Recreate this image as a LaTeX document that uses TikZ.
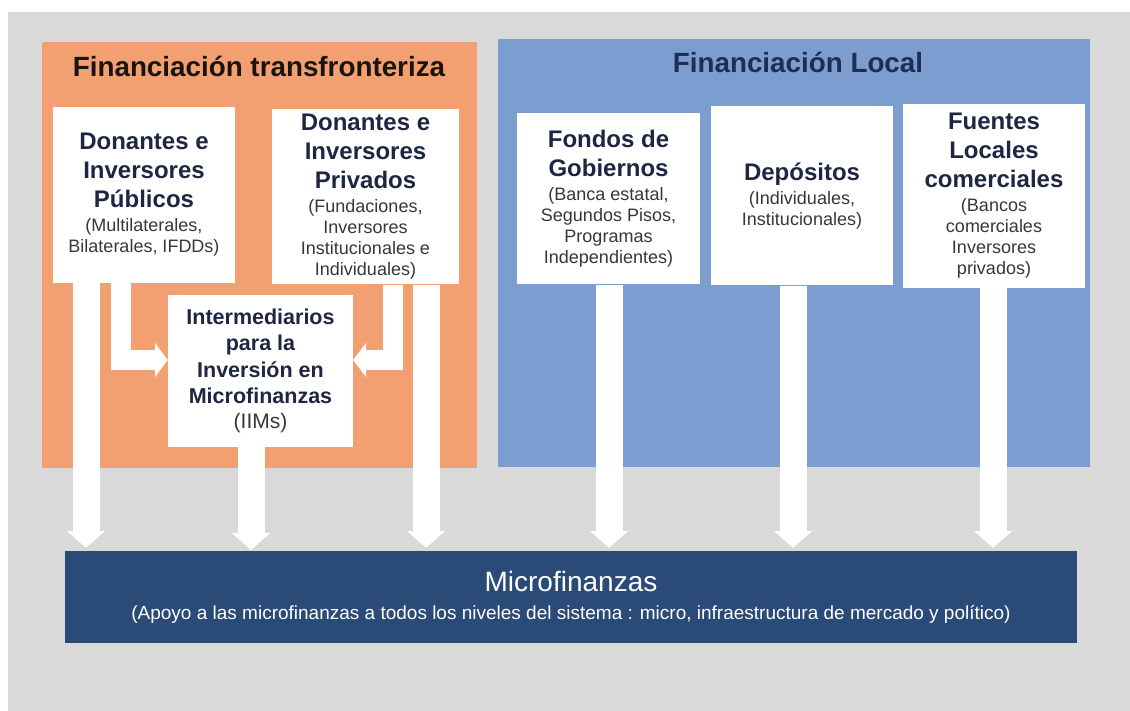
\documentclass[tikz,border=0pt]{standalone}
\usepackage{fontspec}
\setmainfont{Liberation Sans}
\usetikzlibrary{arrows.meta}
\definecolor{bggray}{HTML}{D9D9D9}
\definecolor{orangep}{HTML}{F2A071}
\definecolor{bluep}{HTML}{7C9DCF}
\definecolor{navyp}{HTML}{2A4A78}
\definecolor{headc}{HTML}{1E2643}
\definecolor{subc}{HTML}{333740}
\definecolor{titleo}{HTML}{1A1410}
\definecolor{titleb}{HTML}{1F2D52}
\newcommand{\hdfont}{\fontsize{24}{29}\selectfont\bfseries\color{headc}}
\newcommand{\hdsmall}{\fontsize{21.5}{26.5}\selectfont\bfseries\color{headc}}
\newcommand{\subfont}{\par\vspace{3pt}\fontsize{18}{21}\selectfont\mdseries\color{subc}}
\begin{document}
\begin{tikzpicture}[x=1pt,y=-1pt,
  panel/.style={rectangle, inner sep=0pt, draw=none},
  whitebox/.style={rectangle, fill=white, inner sep=0pt, text width=180pt, align=flush center},
  bigarrow/.style={draw=white, line width=27pt, -{Triangle[width=38pt,length=17pt]}},
  bendarrow/.style={draw=white, line width=20pt, line join=miter, -{Triangle[width=34pt,length=13pt]}},
  ptitle/.style={anchor=base, inner sep=0pt, font=\fontsize{27.8}{32}\selectfont\bfseries}]
\useasboundingbox (0,0) rectangle (1130,711);
\fill[white] (0,0) rectangle (1130,711);
\fill[bggray] (8,12) rectangle (1130,711);

% panels
\node[panel, fill=orangep, minimum width=435pt, minimum height=426pt] (cross) at (259.5,255) {};
\node[panel, fill=bluep, minimum width=592pt, minimum height=428pt] (local) at (794,253) {};
\node[ptitle, text=titleo] (tcross) at (259,77) {Financiación transfronteriza};
\node[ptitle, text=titleb] (tlocal) at (798,73) {Financiación Local};

% boxes
\node[whitebox, minimum width=182pt, minimum height=176pt] (pub) at (144,195)
  {\hdfont Donantes e\\Inversores\\Públicos\subfont (Multilaterales,\\Bilaterales, IFDDs)\par};
\node[whitebox, minimum width=187pt, minimum height=175pt] (priv) at (365.5,197)
  {\hdfont Donantes e\\Inversores\\Privados\subfont (Fundaciones,\\Inversores\\Institucionales e\\Individuales)\par};
\node[whitebox, minimum width=185pt, minimum height=152pt] (iim) at (260.5,371)
  {\hdsmall Intermediarios\\para la\\Inversión en\\Microfinanzas\par\vspace{1pt}\fontsize{21}{24}\selectfont\mdseries\color{subc}(IIMs)\par};
\node[whitebox, minimum width=183pt, minimum height=171pt] (fondos) at (608.5,199)
  {\hdfont Fondos de\\Gobiernos\subfont (Banca estatal,\\Segundos Pisos,\\Programas\\Independientes)\par};
\node[whitebox, minimum width=182pt, minimum height=179pt] (dep) at (802,196)
  {\hdfont Depósitos\subfont (Individuales,\\Institucionales)\par};
\node[whitebox, minimum width=182pt, minimum height=184pt] (fuen) at (994,196)
  {\hdfont Fuentes\\Locales\\comerciales\subfont (Bancos\\comerciales\\Inversores\\privados)\par};

% microfinanzas
\node[rectangle, fill=navyp, inner sep=0pt, minimum width=1012pt, minimum height=92pt,
      text width=1000pt, align=flush center, text=white] (micro) at (571,597)
  {\fontsize{28}{32}\selectfont Microfinanzas\par\vspace{6pt}\fontsize{19}{22}\selectfont (Apoyo a las microfinanzas a todos los niveles del sistema : micro, infraestructura de mercado y político)\par};

% arrow columns
\coordinate (xa) at (86,0);
\coordinate (xb) at (251,0);
\coordinate (xc) at (426,0);
\coordinate (xd) at (609,0);
\coordinate (xe) at (793,0);
\coordinate (xf) at (993,0);
\coordinate (xl) at (121,0);
\coordinate (xr) at (393,0);
\coordinate (hy) at (0,360);

\draw[bigarrow] (pub.south -| xa) -- ([yshift=3pt]micro.north -| xa);
\draw[bigarrow] (iim.south -| xb) -- ([yshift=1pt]micro.north -| xb);
\draw[bigarrow] (priv.south -| xc) -- ([yshift=3pt]micro.north -| xc);
\draw[bigarrow] (fondos.south -| xd) -- ([yshift=3pt]micro.north -| xd);
\draw[bigarrow] (dep.south -| xe) -- ([yshift=3pt]micro.north -| xe);
\draw[bigarrow] (fuen.south -| xf) -- ([yshift=3pt]micro.north -| xf);

\draw[bendarrow] (pub.south -| xl) |- (iim.west |- hy);
\draw[bendarrow] (priv.south -| xr) |- (iim.east |- hy);
\end{tikzpicture}
\end{document}
